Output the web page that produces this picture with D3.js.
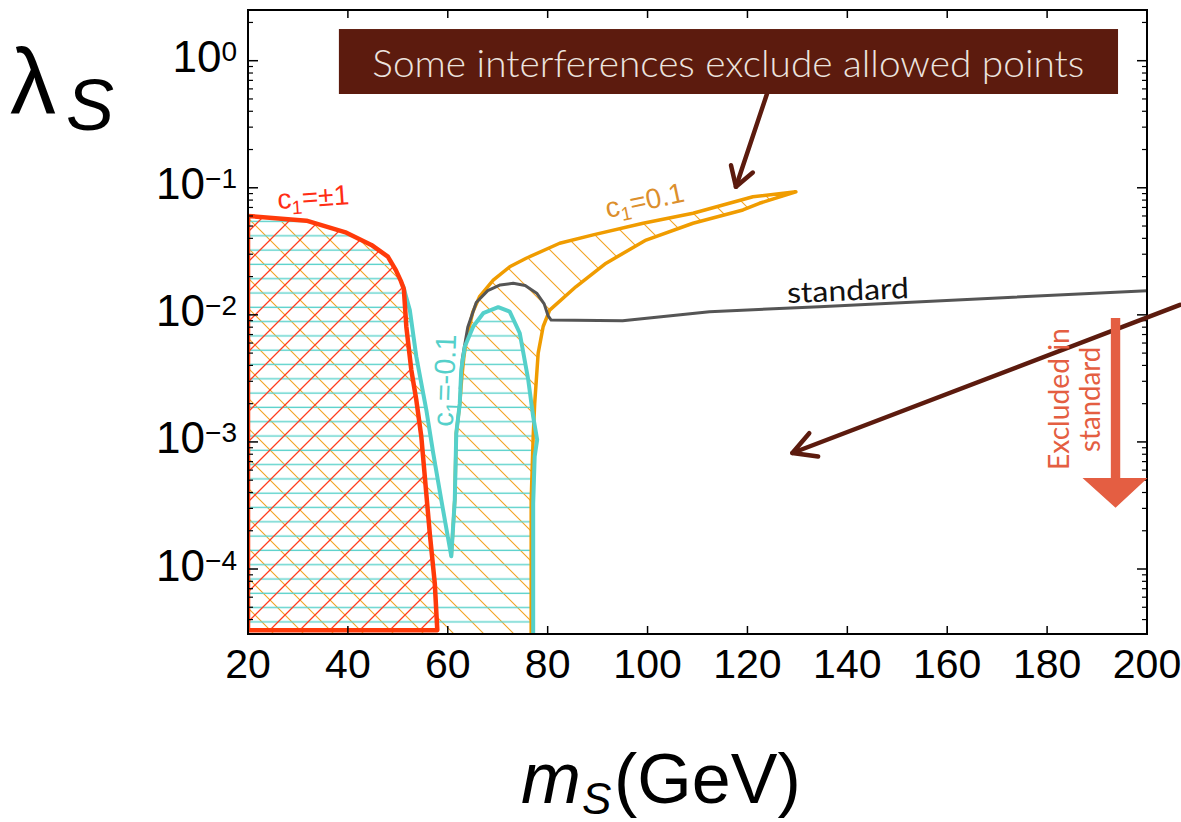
<!DOCTYPE html>
<html><head><meta charset="utf-8">
<script src="https://cdn.jsdelivr.net/npm/d3@7/dist/d3.min.js"></script>
<style>body{margin:0;background:#fff;} svg{display:block;}</style>
</head><body>
<svg id="chart" width="1181" height="822"></svg>
<script>
// ---------- data ----------
const xTicks = [20, 40, 60, 80, 100, 120, 140, 160, 180, 200];
const yTickExps = [0, -1, -2, -3, -4];
// c1 = ±1 excluded region (closed)
const redRegion = [[20,0.060],[31.7,0.0551],[39.7,0.0443],[44.7,0.0355],[48,0.0287],[49.6,0.0225],[50.6,0.0185],[51.2,0.0160],
  [51.7,0.00807],[52.7,0.00368],[53.7,0.00214],[54.7,0.0011],[56.4,1.9e-4],[57.4,7.7e-5],[57.9,3.3e-5],[20,3.3e-5]];
// shared top-left boundary
const topLeft = [[20,0.060],[31.7,0.0551],[39.7,0.0443],[44.7,0.0355],[48,0.0287],[49.6,0.0225],[50.6,0.0185],[51.0,0.0172]];
// c1 = -0.1 boundary: V left side, tip, arch
const cyanEdge = [[51.0,0.0172],[52.4,0.0109],[53.7,0.00469],[55.7,0.00179],[57.1,8.1e-4],[58.7,3.5e-4],[60.7,1.26e-4],
  [61.4,3.5e-4],[61.7,1.17e-3],[62.4,2.0e-3],[62.7,3.7e-3],[63.4,5.6e-3],[65.1,8.1e-3],[67.1,0.0103],[70.1,0.0115],
  [72.4,0.0106],[74.4,7.2e-3],[76.1,3.1e-3],[77.1,1.58e-3],[77.9,1.04e-3],[77.4,7.7e-4],[77.1,3.3e-4],[77.1,3.0e-5]];
// c1 = 0.1 boundary: from V tip up along inner side, upper edge, tip, lower edge, down to bottom
const orangeEdge = [[60.7,1.26e-4],[61.4,3.5e-4],[61.7,1.17e-3],[62.4,2.0e-3],[62.8,3.2e-3],[63.2,4.6e-3],[63.7,6.3e-3],
  [65,0.0105],[66.4,0.014],[69.1,0.0188],[72.4,0.0239],[75.7,0.0279],[82.4,0.0366],[89.1,0.0426],[99.1,0.0526],
  [109.1,0.063],[121.1,0.085],[129.7,0.093],[122.4,0.0755],[119.1,0.0669],[109.1,0.0526],[99.7,0.0388],[91.7,0.0255],
  [85.7,0.0167],[80.4,0.0109],[79.1,8.1e-3],[78.1,5.0e-3],[77.4,2.0e-3],[77.1,1.1e-3],[76.7,3.5e-4],[76.7,3.0e-5]];
const orangeVLeft = [[51.0,0.0172],[52.4,0.0109],[53.7,0.00469],[55.7,0.00179],[57.1,8.1e-4],[58.7,3.5e-4]];
// standard bound
const standardLine = [[62.5,2.6e-3],[62.9,4.5e-3],[64,8.0e-3],[65.7,0.0125],[68,0.0155],[70.5,0.0172],[73.1,0.0177],
  [75.5,0.017],[77.8,0.0148],[79.3,0.0122],[80.1,0.0098],[80.7,0.0091],[95,0.009],[112.4,0.0106],[134.4,0.0116],[200,0.0155]];
const yMin = 3.08e-5, yMax = 2.506;

// ---------- setup ----------
const svg = d3.select("#chart");
const L = 248, R = 1147, T = 10, B = 634;
const x = d3.scaleLinear().domain([20, 200]).range([L, R]);
const y = d3.scaleLog().domain([yMin, yMax]).range([B, T]);
const line = d3.line().x(d => x(d[0])).y(d => y(d[1]));

const defs = svg.append("defs");
defs.append("clipPath").attr("id", "clip").append("rect")
  .attr("x", L).attr("y", T).attr("width", R - L).attr("height", B - T);
function hatch(id, p, d, color, w) {
  defs.append("pattern").attr("id", id).attr("patternUnits", "userSpaceOnUse")
    .attr("width", p.w).attr("height", p.h)
    .append("path").attr("d", d).attr("stroke", color).attr("stroke-width", w).attr("fill", "none");
}
const P = 30;
hatch("hRed", {w:P,h:P}, `M0,${P} L${P},0 M${-P/2},${P/2} L${P/2},${-P/2} M${P/2},${1.5*P} L${1.5*P},${P/2}`, "#ff3d1f", 1.3);
hatch("hOrange", {w:P,h:P}, `M0,0 L${P},${P} M${-P/2},${P/2} L${P/2},${1.5*P} M${P/2},${-P/2} L${1.5*P},${P/2}`, "#f2a322", 1.1);
hatch("hCyan", {w:10,h:14.3}, `M-1,7 L11,7`, "#5bd2cb", 1.4);

const plot = svg.append("g").attr("clip-path", "url(#clip)");

// fills
const orangeFill = topLeft.concat(orangeVLeft, orangeEdge, [[20, yMin]]);
const cyanFill = topLeft.concat(cyanEdge, [[20, yMin]]);
plot.append("path").attr("d", line(orangeFill) + "Z").attr("fill", "url(#hOrange)");
plot.append("path").attr("d", line(cyanFill) + "Z").attr("fill", "url(#hCyan)");
plot.append("path").attr("d", line(redRegion) + "Z").attr("fill", "url(#hRed)");

// outlines
plot.append("path").attr("d", line(orangeEdge)).attr("fill", "none")
  .attr("stroke", "#f09c00").attr("stroke-width", 3.5).attr("stroke-linejoin", "round");
plot.append("path").attr("d", line(standardLine)).attr("fill", "none")
  .attr("stroke", "#555").attr("stroke-width", 3).attr("stroke-linejoin", "round");
plot.append("path").attr("d", line(cyanEdge)).attr("fill", "none")
  .attr("stroke", "#55d0ca").attr("stroke-width", 4).attr("stroke-linejoin", "round");
plot.append("path").attr("d", line(redRegion) + "Z").attr("fill", "none")
  .attr("stroke", "#ff3a0a").attr("stroke-width", 4.5).attr("stroke-linejoin", "round");

// ---------- axes ----------
const majorY = yTickExps.map(e => Math.pow(10, e));
const minorY = [];
for (let e = -5; e <= 0; e++) for (let k = 2; k <= 9; k++) {
  const v = k * Math.pow(10, e); if (v >= yMin && v <= yMax) minorY.push(v);
}
const ax = svg.append("g").attr("stroke", "#000");
xTicks.forEach(v => {
  ax.append("line").attr("x1", x(v)).attr("x2", x(v)).attr("y1", B).attr("y2", B - 8).attr("stroke-width", 1.5);
  ax.append("line").attr("x1", x(v)).attr("x2", x(v)).attr("y1", T).attr("y2", T + 8).attr("stroke-width", 1.5);
});
majorY.forEach(v => {
  ax.append("line").attr("x1", L).attr("x2", L + 10).attr("y1", y(v)).attr("y2", y(v)).attr("stroke-width", 1.5);
  ax.append("line").attr("x1", R).attr("x2", R - 10).attr("y1", y(v)).attr("y2", y(v)).attr("stroke-width", 1.5);
});
minorY.forEach(v => {
  ax.append("line").attr("x1", L).attr("x2", L + 5).attr("y1", y(v)).attr("y2", y(v)).attr("stroke-width", 1.2);
  ax.append("line").attr("x1", R).attr("x2", R - 5).attr("y1", y(v)).attr("y2", y(v)).attr("stroke-width", 1.2);
});
svg.append("rect").attr("x", L).attr("y", T).attr("width", R - L).attr("height", B - T)
  .attr("fill", "none").attr("stroke", "#000").attr("stroke-width", 2);

const FONT = "'Liberation Sans', Arial, Helvetica, sans-serif";
// x tick labels
svg.append("g").selectAll("text").data(xTicks).join("text")
  .attr("x", d => x(d)).attr("y", 678).attr("text-anchor", "middle")
  .attr("font-family", FONT).attr("font-size", 41).attr("fill", "#000").text(d => d);
// y tick labels
yTickExps.forEach(e => {
  const t = svg.append("text").attr("x", 237).attr("y", y(Math.pow(10, e)) + 11.5)
    .attr("text-anchor", "end").attr("font-family", FONT).attr("fill", "#000");
  t.append("tspan").attr("font-size", 44).text("10");
  t.append("tspan").attr("font-size", 28).attr("dy", -11).text(e === 0 ? "0" : "\u2212" + (-e));
});

// axis titles
svg.append("text").attr("x", 10).attr("y", 113).attr("font-family", FONT).attr("font-size", 92)
  .attr("fill", "#000").text("\u03bb");
svg.append("text").attr("x", 66).attr("y", 130).attr("font-family", FONT).attr("font-size", 72)
  .attr("font-style", "italic").attr("fill", "#000").text("S");
svg.append("text").attr("x", 521).attr("y", 803).attr("font-family", FONT).attr("font-size", 72)
  .attr("font-style", "italic").attr("fill", "#000").text("m");
svg.append("text").attr("x", 582).attr("y", 814).attr("font-family", FONT).attr("font-size", 44)
  .attr("font-style", "italic").attr("fill", "#000").text("S");
svg.append("text").attr("x", 614).attr("y", 803).attr("font-family", FONT).attr("font-size", 70)
  .attr("fill", "#000").text("(GeV)");

// ---------- curve labels ----------
function cLabel(pos, rest, color, size, rot) {
  const px = x(pos[0]), py = y(pos[1]);
  const t = svg.append("text").attr("transform", `translate(${px},${py}) rotate(${rot})`)
    .attr("font-family", FONT).attr("font-size", size).attr("fill", color);
  t.append("tspan").text("c");
  t.append("tspan").attr("font-size", size * 0.68).attr("dy", size * 0.22).text("1");
  t.append("tspan").attr("dy", -size * 0.22).text(rest);
}
cLabel([26, 0.068], "=\u00b11", "#ff2d14", 28, -4);
cLabel([92, 0.0579], "=0.1", "#dc8f2c", 28, -12);
cLabel([61, 1.31e-3], "=-0.1", "#55d0ca", 29, -88);

const SANS2 = "Lato, 'Open Sans', sans-serif";
svg.append("text").attr("transform", `translate(${x(128)},${y(0.0124)}) rotate(-2.3)`)
  .attr("font-family", SANS2).attr("font-size", 29).attr("fill", "#111")
  .attr("textLength", 122).attr("lengthAdjust", "spacingAndGlyphs").text("standard");

// ---------- annotations ----------
const brown = "#5c1b0e";
const box = {x0: 38.2, x1: 194.2, y0: 1.775, y1: 0.547};
svg.append("rect").attr("x", x(box.x0)).attr("y", y(box.y0))
  .attr("width", x(box.x1) - x(box.x0)).attr("height", y(box.y1) - y(box.y0)).attr("fill", brown);
svg.append("text").attr("x", x(44.9)).attr("y", y(1.775) + 48)
  .attr("font-family", SANS2).attr("font-weight", 300).attr("font-size", 38).attr("fill", "#ece3df")
  .attr("textLength", 712).attr("lengthAdjust", "spacingAndGlyphs")
  .text("Some interferences exclude allowed points");

function arrow(from, to, headLen, ang) {
  const x1 = x(from[0]), y1 = y(from[1]), x2 = x(to[0]), y2 = y(to[1]);
  const a = Math.atan2(y1 - y2, x1 - x2);
  const pts = [a + ang, a - ang].map(b => [x2 + headLen * Math.cos(b), y2 + headLen * Math.sin(b)]);
  const g = svg.append("g").attr("stroke", brown).attr("stroke-width", 4.5).attr("fill", "none")
    .attr("stroke-linecap", "round").attr("stroke-linejoin", "round");
  g.append("line").attr("x1", x1).attr("y1", y1).attr("x2", x2).attr("y2", y2);
  g.append("path").attr("d", `M${pts[0][0]},${pts[0][1]} L${x2},${y2} L${pts[1][0]},${pts[1][1]}`);
}
arrow([123.9, 0.547], [117.7, 0.102], 22, 0.55);
arrow([206.6, 0.01197], [129, 8.18e-4], 26, 0.5);

// red "excluded in standard" arrow
const coral = "#e45e42";
const ex = {x: 193.7, top: 9.46e-3, base: 5.2e-4, tip: 3.03e-4};
const cx = x(ex.x);
svg.append("path").attr("fill", coral).attr("d",
  `M${cx - 4.7},${y(ex.top)} L${cx + 4.7},${y(ex.top)} L${cx + 4.7},${y(ex.base)} L${cx + 32},${y(ex.base)}` +
  ` L${cx},${y(ex.tip)} L${cx - 33},${y(ex.base)} L${cx - 4.7},${y(ex.base)} Z`);
svg.append("text").attr("transform", `translate(${x(184.4)},${y(6.0e-4)}) rotate(-90)`)
  .attr("font-family", SANS2).attr("font-size", 28).attr("fill", coral)
  .attr("textLength", 142).attr("lengthAdjust", "spacingAndGlyphs").text("Excluded in");
svg.append("text").attr("transform", `translate(${x(190.6)},${y(8.35e-4)}) rotate(-90)`)
  .attr("font-family", SANS2).attr("font-size", 28).attr("fill", coral)
  .attr("textLength", 105).attr("lengthAdjust", "spacingAndGlyphs").text("standard");
</script>
</body></html>
